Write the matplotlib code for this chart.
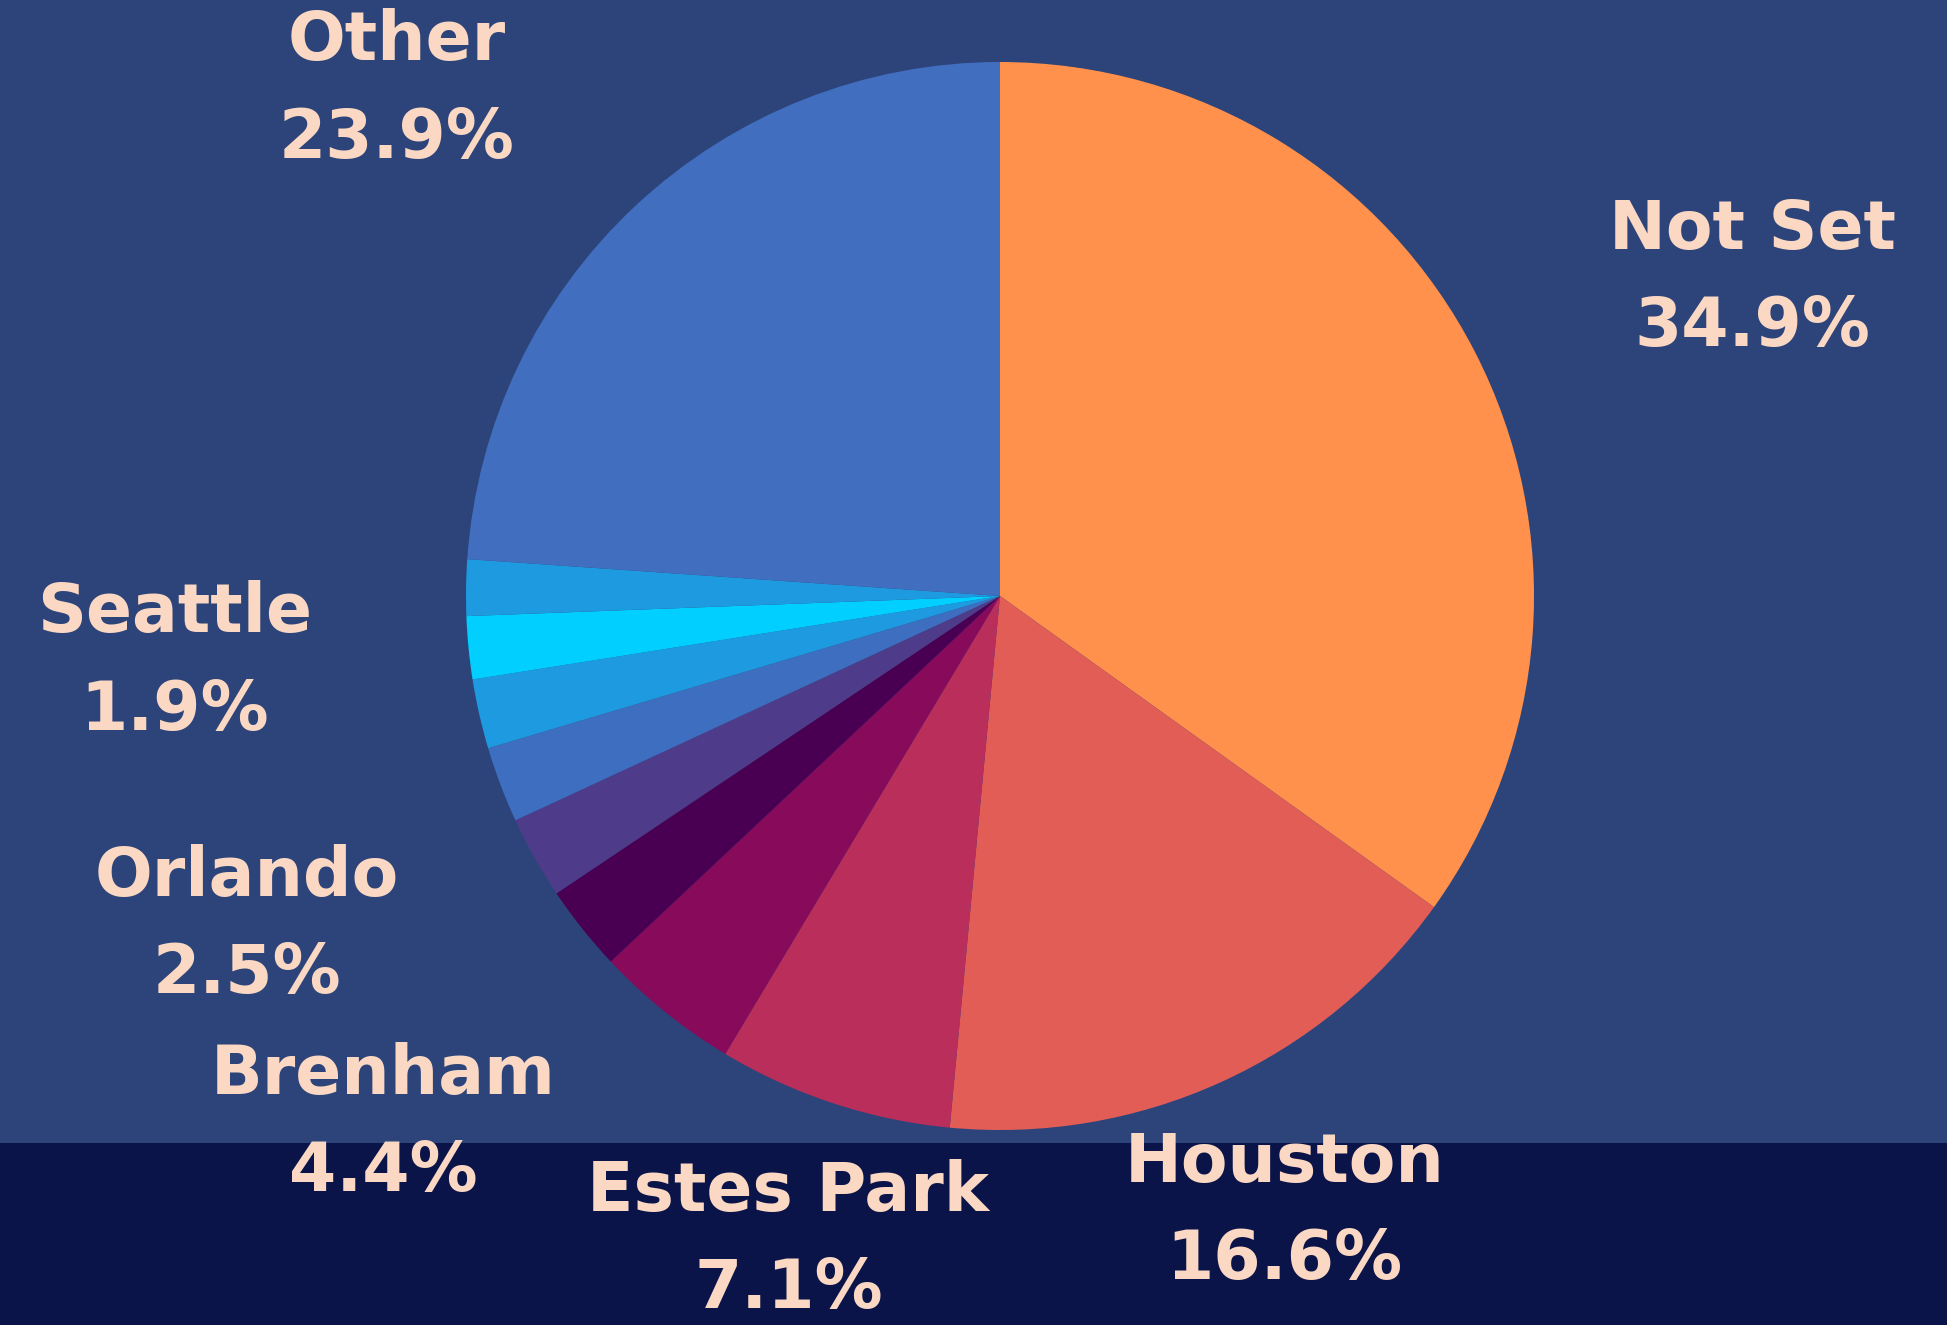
# Pie chart of sessions by city (recreated)

import numpy as np
import matplotlib.pyplot as plt
from matplotlib.patches import Rectangle

# dados (sentido horario a partir do topo)
cidades = ['Not Set', 'Houston', 'Estes Park', 'Brenham', '', 'Orlando', '', '', 'Seattle', '', 'Other']
valores = [34.9, 16.6, 7.1, 4.4, 2.6, 2.5, 2.3, 2.1, 1.9, 1.7, 23.9]

cores = ['#FF914D', '#E35D57', '#BA2E5B', '#870A5B', '#4A0052', '#4E3C8A',
         '#3D6EC0', '#1E9BE0', '#00CFFF', '#1E9BE0', '#416EBE']

# posicao dos rotulos: (raio relativo, desvio em graus do meio da fatia)
posicao_rotulo = {
    'Not Set': (1.53, -4.3),
    'Houston': (1.27, 0.3),
    'Estes Park': (1.27, 0.0),
    'Brenham': (1.52, -10.6),
    'Orlando': (1.54, -5.7),
    'Seattle': (1.55, -1.0),
    'Other': (1.475, 7.0),
}

fundo = '#2C4479'
faixa = '#0B1448'
texto = '#FBD8C3'

W, H, dpi = 1947, 1325, 100
cx, cy, R = 1000, 729, 534  # centro e raio em pixels (y de baixo pra cima)

fig = plt.figure(figsize=(W/dpi, H/dpi), dpi=dpi, facecolor=fundo)
fig.add_artist(Rectangle((0, 0), 1, 182/H, transform=fig.transFigure,
                         facecolor=faixa, edgecolor='none', zorder=0))

ax = fig.add_axes([0, 0, 1, 1])
ax.set_facecolor('none')

wedges, _ = ax.pie(valores, colors=cores, startangle=90, counterclock=False,
                   radius=1, center=(0, 0), wedgeprops=dict(linewidth=0))

# pie() mexe nos limites, entao define depois
ax.set_xlim(-cx/R, (W-cx)/R)
ax.set_ylim(-cy/R, (H-cy)/R)
ax.set_aspect('equal')
ax.axis('off')

for w, nome, v in zip(wedges, cidades, valores):
    if not nome:
        continue
    raio, desvio = posicao_rotulo[nome]
    ang = np.deg2rad((w.theta1 + w.theta2)/2 + desvio)
    ax.text(raio*np.cos(ang), raio*np.sin(ang), f'{nome}\n{v:.1f}%',
            ha='center', va='center', color=texto, fontsize=49,
            fontweight='bold', family='DejaVu Sans', linespacing=1.6)

fig.savefig('out.png', dpi=dpi, facecolor=fundo)
